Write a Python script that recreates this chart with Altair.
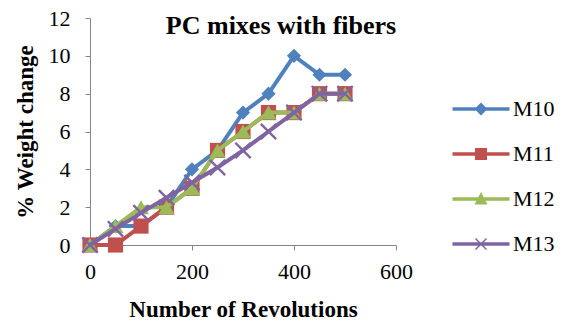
import altair as alt
import pandas as pd

revolutions = [0, 50, 100, 150, 200, 250, 300, 350, 400, 450, 500]
m10 = [0, 1, 1, 2, 4, 5, 7, 8, 10, 9, 9]
m11 = [0, 0, 1, 2, 3, 5, 6, 7, 7, 8, 8]
m12 = [0, 1, 2, 2, 3, 5, 6, 7, 7, 8, 8]
m13 = [0, 0.85, 1.7, 2.5, 3.3, 4.1, 5.0, 6.0, 7.0, 8.0, 8.0]
series_names = ["M10", "M11", "M12", "M13"]
series_values = [m10, m11, m12, m13]
colors = ["#4F81BD", "#C0504D", "#9BBB59", "#8064A2"]
x_ticks = [0, 200, 400, 600]
y_ticks = [0, 2, 4, 6, 8, 10, 12]

rows = []
for name, vals in zip(series_names, series_values):
    for xv, yv in zip(revolutions, vals):
        rows.append({"series": name, "rev": xv, "wc": yv})
df = pd.DataFrame(rows)

FONT = "Liberation Serif, Times New Roman, serif"
X_PATH = "M-1,-0.8L-0.8,-1L1,0.8L0.8,1Z M0.8,-1L1,-0.8L-0.8,1L-1,0.8Z"
marker_shapes = ["diamond", "square", "triangle-up", X_PATH]

# legend symbols: line segment + marker (custom paths, unit = sqrt(size)/2)
LINE = "M-2.85,-0.18L2.85,-0.18L2.85,0.18L-2.85,0.18Z"
legend_paths = [
    LINE + " M0,-0.65L0.65,0L0,0.65L-0.65,0Z",
    LINE + " M-0.6,-0.6L0.6,-0.6L0.6,0.6L-0.6,0.6Z",
    LINE + " M0,-0.7L0.65,0.55L-0.65,0.55Z",
    LINE + " M-0.6,-0.5L-0.5,-0.6L0.6,0.5L0.5,0.6Z M0.5,-0.6L0.6,-0.5L-0.5,0.6L-0.6,0.5Z",
]

axis_style = dict(grid=False, domainColor="#868686", tickColor="#868686", tickSize=5,
                  labelFlush=False, labelOverlap=False,
                  labelFont=FONT, labelFontSize=22, labelColor="black",
                  titleFont=FONT, titleFontSize=23, titleFontWeight="bold", titleColor="black")

x_enc = alt.X("rev:Q", scale=alt.Scale(domain=[0, 600], nice=False),
              axis=alt.Axis(values=x_ticks, title="Number of Revolutions",
                            labelPadding=11, titlePadding=16, **axis_style))
y_enc = alt.Y("wc:Q", scale=alt.Scale(domain=[0, 12], nice=False),
              axis=alt.Axis(values=y_ticks, title="% Weight change",
                            labelPadding=15, titlePadding=11, **axis_style))

color_scale = alt.Scale(domain=series_names, range=colors)
shape_scale = alt.Scale(domain=series_names, range=marker_shapes)
size_scale = alt.Scale(domain=series_names, range=[200, 290, 230, 160])

layers = []
for name in series_names:
    sub = alt.Chart(df).transform_filter(alt.datum.series == name)
    layers.append(sub.mark_line(strokeWidth=4).encode(
        x=x_enc, y=y_enc,
        color=alt.Color("series:N", scale=color_scale, legend=None)))
    layers.append(sub.mark_point(filled=True, strokeWidth=1, opacity=1).encode(
        x=x_enc, y=y_enc,
        color=alt.Color("series:N", scale=color_scale, legend=None),
        shape=alt.Shape("series:N", scale=shape_scale, legend=None),
        size=alt.Size("series:N", scale=size_scale, legend=None)))

leg = alt.Legend(title=None, orient="none", legendX=380, legendY=80,
                 symbolSize=400, symbolOpacity=1, symbolStrokeWidth=0,
                 labelOffset=21, rowPadding=23, padding=0,
                 labelFont=FONT, labelFontSize=22, labelColor="black", labelLimit=200)

legend_layer = alt.Chart(df).mark_point(filled=True, opacity=0, size=400).encode(
    x=x_enc, y=y_enc,
    color=alt.Color("series:N", scale=alt.Scale(domain=series_names, range=colors), legend=leg),
    shape=alt.Shape("series:N", scale=alt.Scale(domain=series_names, range=legend_paths), legend=leg),
)

chart = alt.layer(*layers, legend_layer).resolve_scale(
    shape="independent", color="independent", size="independent"
).properties(
    width=306, height=227,
    autosize=alt.AutoSizeParams(type="none"),
    padding={"left": 90, "top": 18, "right": 174, "bottom": 77},
    background="white",
    title=alt.TitleParams("PC mixes with fibers", font=FONT, fontSize=26, fontWeight="bold",
                          color="black", anchor="middle", dx=38, dy=38, baseline="top", offset=6),
).configure_view(stroke=None)

chart.save("out.html", embed_options={"renderer": "svg", "actions": False})
